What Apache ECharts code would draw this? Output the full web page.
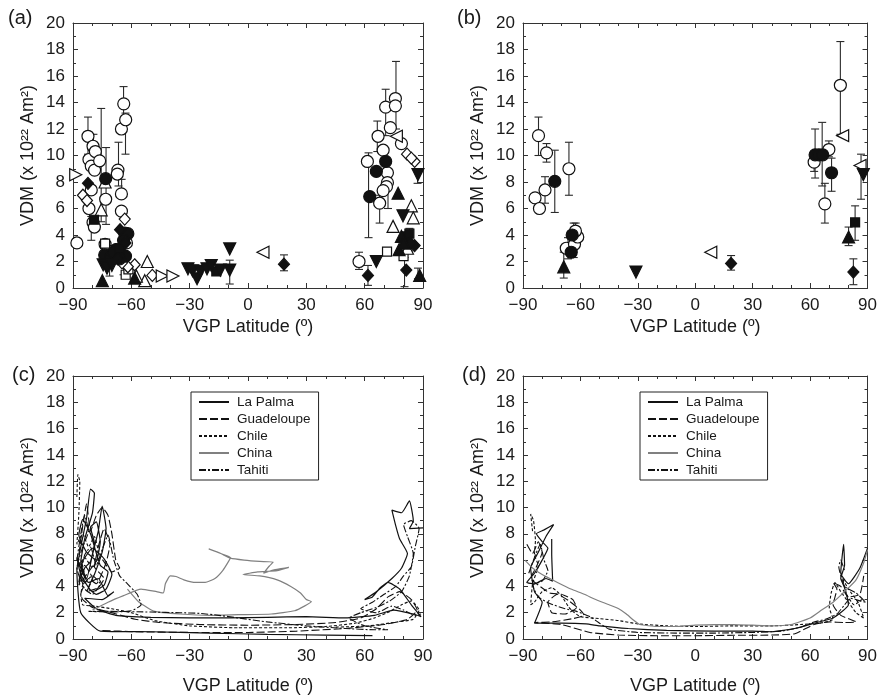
<!DOCTYPE html>
<html>
<head>
<meta charset="utf-8">
<script src="https://cdn.jsdelivr.net/npm/echarts@6/dist/echarts.min.js"></script>
<style>
  html, body { margin: 0; padding: 0; background: #fff; }
  #main { width: 880px; height: 696px; }
</style>
</head>
<body>
<div id="main"></div>
<script>
// ---- axis setup ----
const latTicks = [-90, 90, 30];
const vdmTicks = [0, 20, 2];
const panelLabels = ['(a)', '(b)', '(c)', '(d)'];
const sites = ['La Palma', 'Guadeloupe', 'Chile', 'China', 'Tahiti'];

// ---- panel (a): VGP latitude vs VDM, by marker kind ----
const aOpenCircle = [[-88,3.4],[-82.3,11.45],[-81.8,9.7],[-80.6,9.2],[-79.7,10.7],[-78.5,10.3],[-78.9,8.9],[-76.3,9.6],[-80.6,7.4],[-81.8,6.0],[-79.7,4.95],[-79,4.6],[-73.2,6.7],[-66.9,8.9],[-67.2,8.6],[-65.1,7.1],[-65.1,5.8],[-65.1,12.0],[-63.9,13.9],[-62.9,12.7],[-73.5,3.3],[-72,2.8],[-62.5,3.4],
  [57.1,2.0],[61.4,9.55],[66.9,11.45],[70.8,13.65],[75.8,14.3],[75.8,13.75],[73.2,12.1],[69.5,10.4],[71.7,8.7],[71.7,7.95],[71.2,7.65],[67.7,6.4],[78.9,10.9],[69.5,7.35]];
const aFilledCircle = [[-73.2,8.25],[-63.4,4.15],[-61.8,4.1],[-73.7,2.5],[-67.9,2.9],[-70.5,2.3],[-65.5,2.6],[-63,2.4],[-69,2.7],[-66,2.2],[-64,3.6],[66.0,8.8],[70.8,9.55],[62.6,6.9]];
const aFilledSquare = [[-79.2,5.15],[-66,3.0],[-16.3,1.25],[81.4,3.9],[83,4.1],[82,3.3]];
const aOpenSquare = [[-73.5,3.35],[-62.9,1.0],[-61.5,1.4],[71.5,2.75],[80,2.4]];
const aOpenDiamond = [[-84.9,7.0],[-82.8,6.6],[-63.4,5.2],[-58.3,1.75],[-61.8,1.6],[-64.8,1.9],[-49.2,0.95],[81.8,10.1],[85.7,9.55],[84,9.8]];
const aFilledDiamond = [[-82.3,7.9],[-65.8,4.4],[-63,3.4],[-67,2.2],[18.5,1.8],[61.7,0.95],[81.4,1.35],[85.7,3.2],[83.5,3.4]];
const aOpenTriUp = [[-73.5,8.0],[-75.5,5.9],[-51.8,2.0],[-53.1,0.55],[-57.4,0.9],[84.0,6.2],[85,5.3],[74.6,4.65],[82,3.0]];
const aFilledTriUp = [[-74.9,0.55],[-58.3,0.75],[77.7,2.9],[77.2,7.15],[78.9,3.9],[88.3,0.95],[80,3.4]];
const aFilledTriDown = [[-74.5,1.75],[-72.5,1.5],[-70,1.7],[-30.9,1.45],[-28.5,1.3],[-26.2,0.7],[-24.5,1.25],[-21.1,1.45],[-18.9,1.7],[-14.2,1.35],[-9.4,1.35],[-9.4,2.95],[66.0,2.0],[79.7,5.45],[87.4,8.55]];
const aOpenTriRight = [[-88.6,8.55],[-44.1,0.9],[-38.6,0.9]];
const aOpenTriLeft = [[7.7,2.7],[76.3,11.45]];
// error bars: [lat, low, high]
const aErr = [[-82.3,10.1,12.9],[-79.5,9.3,11.6],[-75.5,5.0,13.55],[-73.0,4.8,10.6],[-80.6,3.6,5.4],[-66.6,7.7,11.0],[-64.0,12.7,15.2],[-63.0,10.1,13.2],[-65.0,6.9,8.2],[-71.2,0.9,2.2],[-64,1.0,2.4],[-9.4,0.3,2.1],[18.5,1.3,2.5],[57.1,1.4,2.7],[61.7,0.2,1.7],[62.0,3.8,10.2],[66.5,10.3,12.6],[67.7,4.9,7.0],[70.8,11.5,15.0],[76.1,12.0,17.1],[72,6.0,8.0],[80.5,0.1,2.3],[83,2.8,4.5],[87.4,0.7,1.5],[87.2,7.9,9.0]];

// ---- panel (b) ----
const bOpenCircle = [[-83.7,6.8],[-81.4,6.0],[-81.9,11.5],[-77.7,10.2],[-78.5,7.4],[-66,9.0],[-67.4,3.0],[-63.1,3.3],[-61.4,3.85],[-62.6,4.3],[62.1,9.5],[75.8,15.3],[69.8,10.45],[67.7,6.35]];
const bFilledCircle = [[-73.4,8.05],[-64.3,4.0],[-64.8,2.7],[62.6,10.05],[64.6,10.05],[66.6,10.05],[71.2,8.7]];
const bFilledTriUp = [[-68.7,1.6],[80.1,3.85]];
const bFilledTriDown = [[-31,1.2],[87.8,8.55]];
const bOpenTriLeft = [[8.1,2.7],[77,11.5],[86.1,9.25]];
const bFilledDiamond = [[18.7,1.85],[82.6,1.2]];
const bFilledSquare = [[83.5,4.95]];
const bErr = [[-81.9,10.0,12.9],[-77.7,9.5,10.9],[-78.5,6.4,8.4],[-73.4,5.7,10.4],[-66,7.0,11.0],[-66.5,2.2,3.8],[-63.5,2.3,4.9],[-62.5,3.5,4.9],[-68.7,0.75,2.7],[18.7,1.35,2.45],[62.1,8.8,10.3],[62.6,8.3,12.0],[66.3,7.7,12.5],[67.7,4.9,7.9],[69.8,9.9,11.1],[71.2,7.3,9.8],[75.8,11.6,18.6],[86.6,6.7,10.1],[83.5,3.6,6.2],[80.1,3.2,4.6],[82.6,0.25,2.2]];

// ---- panel (c): transition paths [lat, vdm] ----
const cLaPalma = [[64,0.25],[40,0.3],[10,0.35],[-20,0.45],[-50,0.55],[-76,0.6],[-86,2.0],[-88,5.2],[-86,7.0],[-83,9.2],[-81,11.4],[-79,11.1],[-80,9.6],[-84,7.6],[-86,5.8],[-83,4.6],[-80,6.4],[-77,8.2],[-75,10.1],[-73,8.4],[-75,6.6],[-79,4.9],[-82,3.9],[-78,3.4],[-73,3.8],[-70,4.9],[-74,6.1],[-80,6.9],[-85,5.9],[-87,4.3],
  [-84,5.4],[-81,5.9],[-79,7.3],[-81,8.5],[-78,8.9],[-76,7.4],[-78,6.0],[-83,6.6],[-87,7.9],[-85,9.1],[-81,8.0],[-76,5.6],[-72,5.1],[-74,4.1],[-80,3.6],[-86,4.9],[-88,6.2],[-85,5.0],[-82,4.3],[-77,4.6],[-72,3.3],[-69,3.6],[-75,3.0],
  [-84,3.1],[-78,2.3],[-68,1.8],[-50,1.65],[-30,1.6],[-10,1.6],[10,1.65],[30,1.7],[50,1.6],[65,1.8],[75,2.2],[85,1.9],[89,1.7],[84,2.6],[78,3.8],[72,4.3],[68,3.9],[64,3.2],[60,3.0],[66,3.6],[74,4.6],[79,5.4],[82,6.5],[78,7.6],[76,8.6],[74,9.8],[79,9.6],[83,10.5],[85,9.0],[83,8.4],[90,8.45]];
const cGuadeloupe = [[-87,6.4],[-85,8.6],[-83,10.3],[-81,8.2],[-78,9.4],[-75,10.0],[-72,9.4],[-70,8.0],[-68,6.0],[-66,5.4],[-70,5.1],[-76,6.2],[-82,5.1],[-87,4.1],[-84,5.6],[-80,4.6],[-83,3.6],[-77,3.9],[-74,4.6],[-79,5.5],
  [-77,7.0],[-74,8.4],[-71,7.2],[-73,5.8],[-78,4.2],[-82,4.6],[-86,3.4],
  [-85,3.0],[-80,2.4],[-70,2.0],[-58,1.5],[-45,1.25],[-25,1.1],[0,1.05],[25,1.1],[45,1.25],[58,1.6],[66,2.3],[72,3.2],[78,3.6],[84,3.0],[87,2.2],[82,1.5],[70,1.1],[50,0.8],[25,0.6],[0,0.5],[-30,0.5],[-58,0.55],[-75,0.65]];
const cChile = [[-88,10.8],[-87.5,12.5],[-86.5,12.0],[-87,9.5],[-88,7.2],[-85,8.0],[-82,7.0],[-79,7.8],[-77,6.6],[-80,5.4],[-84,6.2],[-87,5.5],[-86,6.0],[-84,4.8],[-86,3.4],[-85,2.6],[-79,2.5],[-70,2.3],[-60,2.0],[-48,1.4],[-30,1.0],[-5,0.85],[20,0.85],[40,0.95],[55,1.2],[65,1.6],[73,2.1],[79,2.6],[84,2.9],[88,2.2],[85,1.5],[77,1.3],[62,1.0],[45,0.9]];
const cChina = [[-80,2.2],[-72,2.8],[-64,3.3],[-55,3.8],[-47,3.6],[-43.5,3.5],[-42.5,4.2],[-40,4.8],[-37,4.75],[-33,4.5],[-27,4.3],[-22,4.3],[-17,4.6],[-13,5.2],[-10,5.9],[-9,6.2],[-14,6.5],[-20.2,6.85],[-14,6.5],[-9,6.15],[-2,6.0],[6,5.9],[13,5.85],[11,5.55],[8,5.0],[13,5.25],[17,5.35],[21,5.45],[15,5.2],[5,5.1],[-2.6,4.9],[6,4.8],[15,4.5],[22,4.0],[27,3.5],[30,3.0],[32.6,2.85],[29,2.5],[24,2.15],[12,1.9],[-5,1.85],[-20,1.8],[-35,1.9],[-48,2.1],[-56,2.8],[-62,3.8]];
const cTahiti = [[-88,6.0],[-86,8.0],[-84,9.4],[-82,8.2],[-85,7.0],[-88,5.4],[-85,4.2],[-80,4.8],[-76,4.2],[-80,3.4],[-84,3.8],
  [-86,4.8],[-84,6.4],[-81,7.0],[-78,5.6],[-75,6.8],[-72,7.9],[-69,6.0],[-66,4.8],[-62,4.2],[-57,3.4],[-55,2.6],[-60,2.15],[-70,2.05],[-82,2.1],[-70,2.1],[-50,2.05],[-35,2.0],[-25,1.95],[-15,1.8],[-5,1.6],[10,1.3],[30,1.0],[50,0.8],[65,0.7],[72,0.7],[60,1.0],[52,1.6],[58,2.0],[66,2.4],[73,2.9],[79,3.6],[83,4.8],[85,6.5],[82,7.8],[80,8.7],[84,9.0],[88,8.4],[86,7.0],
  [84,5.5],[80,4.8],[76,4.0],[70,3.4],[64,2.8],[58,2.3],[66,2.0],[74,2.5],[80,2.2],[86,1.8],[89,1.9]];

// ---- panel (d) ----
const dLaPalma = [[-75,7.6],[-75,6.5],[-74.5,4.4],[-78,4.6],[-84,4.2],[-88,4.3],[-84,5.0],[-80,6.0],[-77,6.9],[-80,7.4],[-83,8.0],[-79,8.3],[-74,8.7],[-78,7.8],[-82,6.6],[-86,5.4],[-84,3.6],[-80,2.8],[-84,1.2],[-70,1.2],[-57,1.15],[-50,1.0],[-35,0.8],[-15,0.65],[10,0.6],[30,0.6],[40,0.55],[52,0.8],[62,1.2],[72,1.6],[80,2.6],[78,3.9],[76,4.6],[78,5.6],[77.5,7.2],[76,5.0],[80,4.2],[86,5.4],[90,6.9]];
const dGuadeloupe = [[-88,7.2],[-85,6.5],[-82,7.4],[-80,6.6],[-83,5.5],[-86,4.6],[-82,4.1],[-76,3.5],[-70,3.4],[-64,3.0],[-62,2.4],[-68,1.9],[-75,2.0],[-77,2.8],[-72,3.4],[-66,2.9],[-60,2.2],[-58,1.8],[-64,1.55],[-75,1.3],[-84,1.25],[-70,1.1],[-55,0.5],[-40,0.3],[-20,0.25],[0,0.25],[20,0.28],[40,0.3],[52,0.4],[62,1.1],[70,1.3],[78,1.25],[84,1.3],[76,1.8],[72,2.6],[74,3.8],[72,4.3],[76,4.0],[80,3.2],[86,3.4],[88,4.8]];
const dChile = [[-85,8.2],[-86,9.5],[-84.5,9.0],[-83.5,7.5],[-84,6.4],[-82,5.6],[-85,4.2],[-86,2.6],[-84,2.8],[-80,3.6],[-75,3.9],[-70,3.3],[-66,2.4],[-64,2.1],[-60,1.7],[-50,1.55],[-40,1.4],[-30,1.15],[-15,1.0],[0,0.95],[20,1.0],[40,1.0],[55,1.1],[65,1.2],[72,1.5],[70,2.4],[71,3.5],[73,4.3],[76,3.6],[80,2.8],[84,2.0],[88,1.6],[85,2.8],[80,3.8],[77,4.6],[79,3.4],[83,2.6],[87,3.0]];
const dChina = [[-89,6.0],[-85,5.4],[-80,4.9],[-72,4.3],[-65,3.8],[-58,3.4],[-52,3.0],[-45,2.6],[-40,2.3],[-36,1.9],[-32,1.4],[-29,1.1],[-20,0.95],[-10,0.95],[0,1.05],[10,1.1],[20,1.1],[30,1.05],[40,1.0],[50,1.1],[60,1.6],[66,2.2],[72,2.8],[78,3.6],[84,4.5],[88,5.8],[90,6.8]];
const dTahiti = [[-87,5.0],[-84,6.2],[-81,7.2],[-79,6.0],[-77,5.2],[-80,4.4],[-85,4.1],[-82,3.2],[-76,2.7],[-68,2.3],[-62,2.1],[-55,1.7],[-50,1.2],[-45,0.75],[-30,0.5],[-10,0.45],[10,0.45],[30,0.5],[45,0.6],[55,0.9],[62,1.3],[68,1.5],[74,1.9],[78,2.6],[81,3.1],[86,2.9],[89,2.8],[84,3.5],[78,4.0],[75,5.5],[76,6.0],[78,5.2]];

const ink = '#1a1a1a';
const FONT = 'Liberation Sans, Arial, sans-serif';
const grids = [
  { left: 73, top: 23, width: 350, height: 265 },
  { left: 523, top: 23, width: 350, height: 265 },
  { left: 73, top: 376, width: 350, height: 266 },
  { left: 523, top: 376, width: 350, height: 266 }
];

const tickCommon = {
  axisLine: { onZero: false, lineStyle: { color: '#333', width: 1 } },
  axisTick: { inside: true, length: 5, lineStyle: { color: '#333' } },
  splitLine: { show: false }
};
const minus = v => (v < 0 ? '\u2212' + (-v) : String(v));

const xAxes = [], yAxes = [];
grids.forEach((g, i) => {
  const top = i < 2;
  xAxes.push(Object.assign({}, tickCommon, {
    gridIndex: i, type: 'value', position: 'bottom',
    min: latTicks[0], max: latTicks[1], interval: latTicks[2],
    minorTick: { show: true, splitNumber: 3, length: 3, lineStyle: { color: '#333' } },
    axisLabel: { color: ink, fontSize: 17, fontFamily: FONT, margin: 9, formatter: minus },
    name: 'VGP Latitude (º)', nameLocation: 'middle', nameGap: top ? 30 : 38,
    nameTextStyle: { color: ink, fontSize: 18, fontFamily: FONT }
  }));
  xAxes.push(Object.assign({}, tickCommon, {
    gridIndex: i, type: 'value', position: 'top',
    min: latTicks[0], max: latTicks[1], interval: latTicks[2],
    minorTick: { show: true, splitNumber: 3, length: 3, lineStyle: { color: '#333' } },
    axisLabel: { show: false }
  }));
  yAxes.push(Object.assign({}, tickCommon, {
    gridIndex: i, type: 'value', position: 'left',
    min: vdmTicks[0], max: vdmTicks[1], interval: vdmTicks[2],
    minorTick: { show: true, splitNumber: 2, length: 3, lineStyle: { color: '#333' } },
    axisLabel: { color: ink, fontSize: 17, fontFamily: FONT, margin: 8 },
    name: 'VDM (x 10²² Am²)', nameLocation: 'middle', nameGap: 36, nameRotate: 90,
    nameTextStyle: { color: ink, fontSize: 18, fontFamily: FONT }
  }));
  yAxes.push(Object.assign({}, tickCommon, {
    gridIndex: i, type: 'value', position: 'right',
    min: vdmTicks[0], max: vdmTicks[1], interval: vdmTicks[2],
    minorTick: { show: true, splitNumber: 2, length: 3, lineStyle: { color: '#333' } },
    axisLabel: { show: false }
  }));
});

const series = [];

function errBars(panel, data) {
  series.push({
    type: 'custom', xAxisIndex: panel * 2, yAxisIndex: panel * 2, z: 1,
    data: data, encode: { x: 0, y: [1, 2] }, silent: true,
    renderItem: (params, api) => {
      const lo = api.coord([api.value(0), api.value(1)]);
      const hi = api.coord([api.value(0), api.value(2)]);
      const w = 4;
      const st = { stroke: '#2a2a2a', lineWidth: 1.1 };
      return {
        type: 'group', children: [
          { type: 'line', shape: { x1: lo[0], y1: lo[1], x2: hi[0], y2: hi[1] }, style: st },
          { type: 'line', shape: { x1: lo[0] - w, y1: lo[1], x2: lo[0] + w, y2: lo[1] }, style: st },
          { type: 'line', shape: { x1: hi[0] - w, y1: hi[1], x2: hi[0] + w, y2: hi[1] }, style: st }
        ]
      };
    }
  });
}

function marks(panel, data, symbol, filled, rotate, size) {
  series.push({
    type: 'scatter', xAxisIndex: panel * 2, yAxisIndex: panel * 2, z: 3,
    data: data, symbol: symbol, symbolRotate: rotate || 0, symbolSize: size || 11,
    itemStyle: { color: filled ? '#111' : '#fff', borderColor: '#111', borderWidth: 1.2, opacity: 1 }
  });
}

errBars(0, aErr);
marks(0, aOpenCircle, 'circle', false, 0, 12);
marks(0, aOpenSquare, 'rect', false, 0, 9);
marks(0, aOpenDiamond, 'diamond', false, 0, [11, 12]);
marks(0, aOpenTriUp, 'triangle', false, 0, 12);
marks(0, aOpenTriRight, 'triangle', false, -90, 12);
marks(0, aOpenTriLeft, 'triangle', false, 90, 12);
marks(0, aFilledCircle, 'circle', true, 0, 12);
marks(0, aFilledSquare, 'rect', true, 0, 9);
marks(0, aFilledDiamond, 'diamond', true, 0, [11, 12]);
marks(0, aFilledTriUp, 'triangle', true, 0, 12);
marks(0, aFilledTriDown, 'triangle', true, 180, 12);

errBars(1, bErr);
marks(1, bOpenCircle, 'circle', false, 0, 12);
marks(1, bOpenTriLeft, 'triangle', false, 90, 12);
marks(1, bFilledCircle, 'circle', true, 0, 12);
marks(1, bFilledSquare, 'rect', true, 0, 9);
marks(1, bFilledDiamond, 'diamond', true, 0, [11, 12]);
marks(1, bFilledTriUp, 'triangle', true, 0, 12);
marks(1, bFilledTriDown, 'triangle', true, 180, 12);

const siteStyle = {
  'La Palma': { color: '#111', width: 1.2, type: 'solid' },
  'Guadeloupe': { color: '#111', width: 1.1, type: [8, 3] },
  'Chile': { color: '#111', width: 1.1, type: [3, 2] },
  'China': { color: '#808080', width: 1.2, type: 'solid' },
  'Tahiti': { color: '#111', width: 1.1, type: [7, 2, 2, 2] }
};
const paths = [
  [cLaPalma, cGuadeloupe, cChile, cChina, cTahiti],
  [dLaPalma, dGuadeloupe, dChile, dChina, dTahiti]
];
paths.forEach((set, k) => {
  set.forEach((data, j) => {
    const name = sites[j];
    const s = siteStyle[name];
    series.push({
      name: name, type: 'line', xAxisIndex: (k + 2) * 2, yAxisIndex: (k + 2) * 2, z: 2,
      data: data, symbol: 'none', showSymbol: false, smooth: 0.15,
      color: s.color,
      lineStyle: { color: s.color, width: s.width, type: s.type }
    });
  });
});

const legendBase = {
  orient: 'vertical', data: sites, itemWidth: 30, itemHeight: 10, itemGap: 3,
  itemStyle: { opacity: 0 },
  padding: [3, 8, 3, 7], borderColor: '#222', borderWidth: 1, backgroundColor: '#fff',
  textStyle: { color: ink, fontSize: 13.5, fontFamily: FONT, padding: [0, 0, 0, 3] }, selectedMode: false
};

const chart = echarts.init(document.getElementById('main'), null, { renderer: 'canvas' });
chart.setOption({
  animation: false,
  backgroundColor: '#fff',
  textStyle: { fontFamily: FONT },
  grid: grids,
  xAxis: xAxes,
  yAxis: yAxes,
  legend: [
    Object.assign({}, legendBase, { left: 191, top: 392 }),
    Object.assign({}, legendBase, { left: 640, top: 392 })
  ],
  graphic: panelLabels.map((t, i) => ({
    type: 'text',
    left: [8, 457, 12, 462][i],
    top: [8, 8, 365, 365][i],
    style: { text: t, fontSize: 20, fill: ink, font: '20px ' + FONT }
  })),
  series: series
});
</script>
</body>
</html>
